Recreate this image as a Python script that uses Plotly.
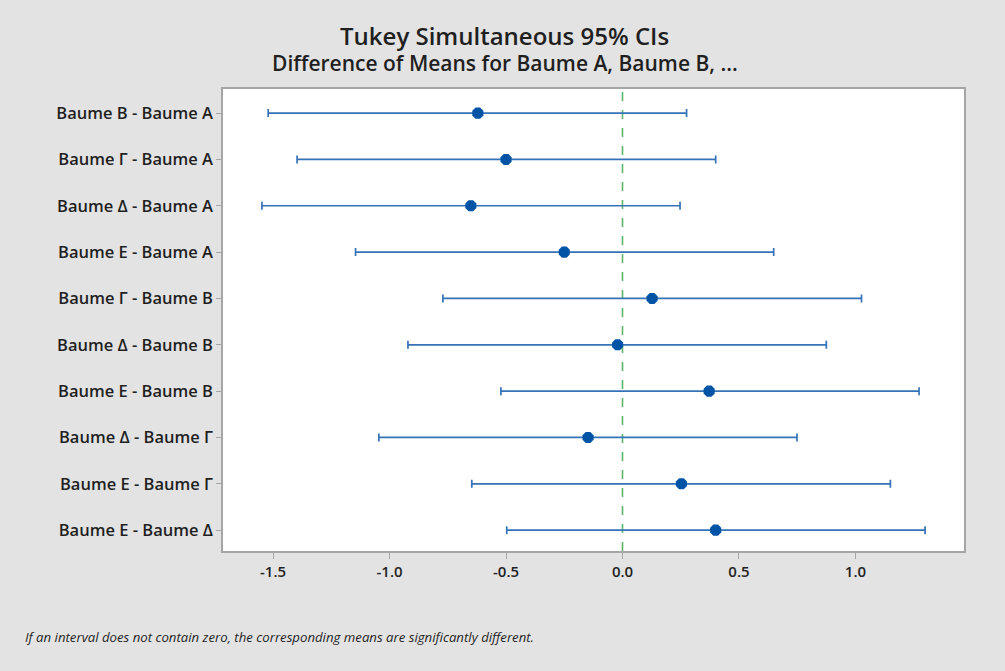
import plotly.graph_objects as go

# Pairwise comparisons (Tukey), estimated difference of means and 95% simultaneous CI
comparisons = [
    "Baume B - Baume A",
    "Baume Γ - Baume A",
    "Baume Δ - Baume A",
    "Baume E - Baume A",
    "Baume Γ - Baume B",
    "Baume Δ - Baume B",
    "Baume E - Baume B",
    "Baume Δ - Baume Γ",
    "Baume E - Baume Γ",
    "Baume E - Baume Δ",
]
diff = [-0.621, -0.500, -0.651, -0.250, 0.127, -0.021, 0.372, -0.148, 0.253, 0.400]
lower = [-1.521, -1.397, -1.548, -1.146, -0.771, -0.921, -0.522, -1.046, -0.647, -0.497]
upper = [0.275, 0.400, 0.247, 0.649, 1.026, 0.875, 1.273, 0.749, 1.150, 1.299]

x_ticks = [-1.5, -1.0, -0.5, 0.0, 0.5, 1.0]

rows = list(range(len(comparisons)))
err_plus = [u - d for u, d in zip(upper, diff)]
err_minus = [d - l for d, l in zip(diff, lower)]

FONT = "Open Sans"
BG = "#e3e3e3"
TEXT = "#1f1f1f"
FRAME = "#a6a6a6"

fig = go.Figure()
fig.add_trace(go.Scatter(
    x=diff,
    y=rows,
    mode="markers",
    marker=dict(symbol="octagon", size=12, color="#0053a5", line=dict(width=0)),
    error_x=dict(
        type="data",
        symmetric=False,
        array=err_plus,
        arrayminus=err_minus,
        color="#3572b8",
        thickness=1.7,
        width=4,
    ),
    showlegend=False,
    hoverinfo="skip",
))

# Reference line at zero difference
fig.add_shape(
    type="line", xref="x", yref="paper",
    x0=0, x1=0, y0=0, y1=1,
    line=dict(color="#5fb46c", width=1.6, dash="dash"),
    layer="below",
)

axis_common = dict(
    ticks="outside",
    tickcolor=FRAME,
    showgrid=False,
    zeroline=False,
    showline=True,
    linecolor=FRAME,
    linewidth=1.5,
    mirror=True,
)

fig.update_layout(
    width=1005,
    height=671,
    paper_bgcolor=BG,
    plot_bgcolor="#ffffff",
    margin=dict(l=223, r=41, t=89, b=120),
    font=dict(family=FONT, color=TEXT, size=14),
    xaxis=dict(
        range=[-1.715, 1.466],
        tickvals=x_ticks,
        ticktext=[f"{v:.1f}" for v in x_ticks],
        ticklen=6,
        tickfont=dict(family=FONT, size=15, color=TEXT, weight=600),
        **axis_common,
    ),
    yaxis=dict(
        range=[9.45, -0.52],
        tickvals=rows,
        ticktext=comparisons,
        ticklen=5,
        tickfont=dict(family=FONT, size=16.5, color=TEXT, weight=600),
        **axis_common,
    ),
    annotations=[
        dict(
            text="Tukey Simultaneous 95% CIs",
            xref="paper", yref="paper", x=0.38, y=1,
            xanchor="center", yanchor="middle", yshift=54,
            showarrow=False,
            font=dict(family=FONT, size=24, color=TEXT, weight=600),
        ),
        dict(
            text="Difference of Means for Baume A, Baume B, ...",
            xref="paper", yref="paper", x=0.38, y=1,
            xanchor="center", yanchor="middle", yshift=26,
            showarrow=False,
            font=dict(family=FONT, size=21, color=TEXT, weight=600),
        ),
        dict(
            text="<i>If an interval does not contain zero, the corresponding means are significantly different.</i>",
            xref="paper", yref="paper", x=0, y=0,
            xanchor="left", yanchor="middle",
            xshift=-200, yshift=-86,
            showarrow=False,
            font=dict(family=FONT, size=13.2, color=TEXT),
        ),
    ],
)

fig.write_html("out.html")
